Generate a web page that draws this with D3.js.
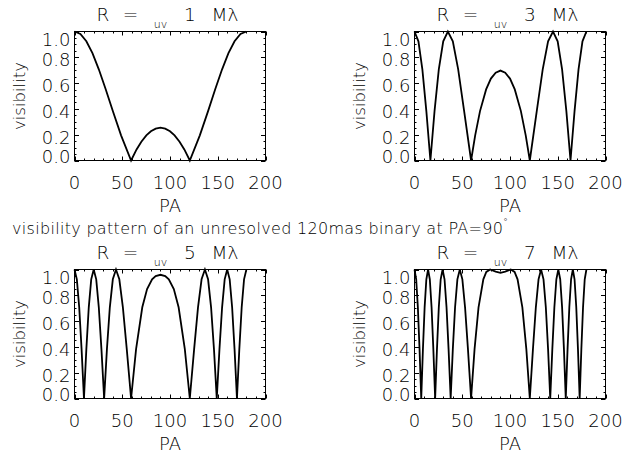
<!DOCTYPE html>
<html><head><meta charset="utf-8">
<script src="https://cdn.jsdelivr.net/npm/d3@7"></script>
<style>
html,body{margin:0;padding:0;background:#fff;}
svg{display:block;}
text{font-family:"DejaVu Sans",sans-serif;font-weight:200;fill:#000;}
</style></head><body>
<svg id="chart" width="623" height="455"></svg>
<script>
// Baselines (M lambda) of the four panels
const baselines = [1, 3, 5, 7];

// Position angle (deg) and visibility
const pa1 = [0, 6.17, 12.41, 18.80, 25.45, 32.49, 40.13, 48.76, 59.25, 65, 70, 75.21, 80, 85, 90,
  95, 100, 104.79, 110, 115, 120.75, 131.24, 139.87, 147.51, 154.55, 161.20, 167.59, 173.83, 180];
const vis1 = [1, 0.981, 0.924, 0.832, 0.707, 0.556, 0.383, 0.195, 0, 0.086, 0.146, 0.195, 0.227, 0.247, 0.254,
  0.247, 0.227, 0.195, 0.146, 0.086, 0, 0.195, 0.383, 0.556, 0.707, 0.832, 0.924, 0.981, 1];

const pa3 = [0, 4.11, 8.24, 12.41, 16.65, 20.98, 25.45, 30.09, 34.96, 40.13, 45.74, 51.98, 59.25, 63.54, 68.60, 75, 80, 85, 90,
  95, 100, 105, 111.40, 116.46, 120.75, 128.02, 134.26, 139.87, 145.04, 149.91, 154.55, 159.02, 163.35, 167.59, 171.76, 175.89, 180];
const vis3 = [1, 0.924, 0.707, 0.383, 0, 0.383, 0.707, 0.924, 1, 0.924, 0.707, 0.383, 0, 0.195, 0.383, 0.551, 0.635, 0.681, 0.697,
  0.681, 0.635, 0.551, 0.383, 0.195, 0, 0.383, 0.707, 0.924, 1, 0.924, 0.707, 0.383, 0, 0.383, 0.707, 0.924, 1];

const pa5 = [0, 2.46, 4.93, 7.41, 9.90, 12.41, 14.94, 17.51, 20.11, 22.75, 25.45, 28.21, 31.04, 33.96, 36.99, 40.13, 43.44, 46.93, 50.67, 54.73, 59.25, 64.48, 70.98, 76, 81.25, 85, 90,
  95, 98.75, 104, 109.02, 115.52, 120.75, 125.27, 129.33, 133.07, 136.56, 139.87, 143.02, 146.04, 148.96, 151.79, 154.55, 157.25, 159.89, 162.49, 165.06, 167.59, 170.10, 172.59, 175.07, 177.54, 180];
const vis5 = [1, 0.924, 0.707, 0.383, 0, 0.383, 0.707, 0.924, 1, 0.924, 0.707, 0.383, 0, 0.383, 0.707, 0.924, 1, 0.924, 0.707, 0.383, 0, 0.383, 0.707, 0.848, 0.924, 0.949, 0.959,
  0.949, 0.924, 0.848, 0.707, 0.383, 0, 0.383, 0.707, 0.924, 1, 0.924, 0.707, 0.383, 0, 0.383, 0.707, 0.924, 1, 0.924, 0.707, 0.383, 0, 0.383, 0.707, 0.924, 1];

const pa7 = [0, 1.76, 3.52, 5.28, 7.05, 8.83, 10.61, 12.41, 14.21, 16.04, 17.88, 19.73, 21.61, 23.52, 25.45, 27.41, 29.41, 31.45, 33.54, 35.68, 37.87, 40.13, 42.48, 44.91, 47.45, 50.12, 52.94, 55.97, 59.25, 62.89, 67.05, 72.08, 75.21, 79.18, 85, 90,
  95, 100.82, 104.79, 107.92, 112.95, 117.11, 120.75, 124.03, 127.06, 129.88, 132.55, 135.09, 137.52, 139.87, 142.13, 144.32, 146.46, 148.55, 150.59, 152.59, 154.55, 156.48, 158.39, 160.27, 162.12, 163.96, 165.79, 167.59, 169.39, 171.17, 172.95, 174.72, 176.48, 178.24, 180];
const vis7 = [1, 0.924, 0.707, 0.383, 0, 0.383, 0.707, 0.924, 1, 0.924, 0.707, 0.383, 0, 0.383, 0.707, 0.924, 1, 0.924, 0.707, 0.383, 0, 0.383, 0.707, 0.924, 1, 0.924, 0.707, 0.383, 0, 0.383, 0.707, 0.924, 0.981, 1, 0.984, 0.974,
  0.984, 1, 0.981, 0.924, 0.707, 0.383, 0, 0.383, 0.707, 0.924, 1, 0.924, 0.707, 0.383, 0, 0.383, 0.707, 0.924, 1, 0.924, 0.707, 0.383, 0, 0.383, 0.707, 0.924, 1, 0.924, 0.707, 0.383, 0, 0.383, 0.707, 0.924, 1];

// Axis ticks and labels
const xTicks = [0, 50, 100, 150, 200];
const yTicks = [0, 0.2, 0.4, 0.6, 0.8, 1.0];
const xMinorStep = 10, yMinorStep = 0.05;
const xLabel = "PA", yLabel = "visibility";
const suptitle = "visibility pattern of an unresolved 120mas binary at PA=90";

const svg = d3.select("#chart");

const panels = [
  {R: baselines[0], pa: pa1, vis: vis1, x0: 74.5, y0: 31.5},
  {R: baselines[1], pa: pa3, vis: vis3, x0: 414.5, y0: 31.5},
  {R: baselines[2], pa: pa5, vis: vis5, x0: 74.5, y0: 269.5},
  {R: baselines[3], pa: pa7, vis: vis7, x0: 414.5, y0: 269.5}
];
const W = 191, H = 129;

panels.forEach(p => {
  const x = d3.scaleLinear().domain([0, 200]).range([p.x0, p.x0 + W]);
  const y = d3.scaleLinear().domain([0, 1]).range([p.y0 + H, p.y0]);
  const g = svg.append("g");
  const x1 = p.x0 + W, y1 = p.y0 + H;
  const cx = (p.x0 + x1) / 2, cy = (p.y0 + y1) / 2;

  // frame
  g.append("rect").attr("x", p.x0).attr("y", p.y0).attr("width", W).attr("height", H)
    .attr("fill", "none").attr("stroke", "#000").attr("stroke-width", 1);

  // minor + major ticks
  const xMinor = d3.range(0, 200 + 1e-9, xMinorStep);
  const yMinor = d3.range(0, 1 + 1e-9, yMinorStep);
  const tick = (xa, ya, xb, yb) => g.append("line").attr("x1", xa).attr("y1", ya).attr("x2", xb).attr("y2", yb)
    .attr("stroke", "#000").attr("stroke-width", 1);
  xMinor.forEach(v => {
    const major = xTicks.some(t => Math.abs(t - v) < 1e-6);
    const L = major ? 4 : 2;
    const xx = Math.round(x(v)) + 0.5;
    tick(xx, y1, xx, y1 - L);
    tick(xx, p.y0, xx, p.y0 + L);
  });
  yMinor.forEach(v => {
    const major = yTicks.some(t => Math.abs(t - v) < 1e-6);
    const L = major ? 4.5 : 2;
    const yy = Math.round(y(v)) + 0.5;
    tick(p.x0, yy, p.x0 + L, yy);
    tick(x1, yy, x1 - L, yy);
  });

  // tick labels
  g.selectAll(".xt").data(xTicks).enter().append("text")
    .attr("x", d => x(d)).attr("y", y1 + 28.5)
    .attr("text-anchor", "middle").style("font-size", "18px")
    .text(d => d3.format("d")(d));
  g.selectAll(".yt").data(yTicks).enter().append("text")
    .attr("x", p.x0 - 4).attr("y", d => y(d) + 6.6 + (d === 1 ? 8 : d === 0 ? -3.7 : 2.5))
    .attr("text-anchor", "end").style("font-size", "18px")
    .text(d => d3.format(".1f")(d));

  // axis titles
  g.append("text").attr("x", cx).attr("y", y1 + 51).attr("text-anchor", "middle")
    .style("font-size", "18px").text(xLabel);
  g.append("text").attr("transform", `translate(${p.x0 - 49.5},${cy}) rotate(-90)`)
    .attr("text-anchor", "middle").style("font-size", "16.5px").text(yLabel);

  // panel title "R = uv N Mλ"
  const tb = p.y0 - 10.8;
  const tt = (s, dx, fs, dy) => g.append("text").attr("x", cx + dx).attr("y", tb + (dy || 0))
    .attr("text-anchor", "middle").style("font-size", fs + "px").text(s);
  tt("R", -67, 18.5);
  tt("=", -39.5, 18.5);
  tt("uv", -9.5, 11, 7.6);
  tt(String(p.R), 20, 18.5);
  tt("M\u03bb", 55, 18.5);

  // curve
  const line = d3.line().x(d => x(d[0])).y(d => y(d[1]));
  g.append("path").datum(d3.zip(p.pa, p.vis)).attr("d", line)
    .attr("fill", "none").attr("stroke", "#000").attr("stroke-width", 1.8)
    .attr("stroke-linejoin", "miter");
});

// overall caption
svg.append("text").attr("x", 12).attr("y", 234).style("font-size", "16px")
  .attr("textLength", 491).attr("lengthAdjust", "spacing").text(suptitle);
svg.append("text").attr("x", 503).attr("y", 226).style("font-size", "10px").text("\u00b0");
</script>
</body></html>
